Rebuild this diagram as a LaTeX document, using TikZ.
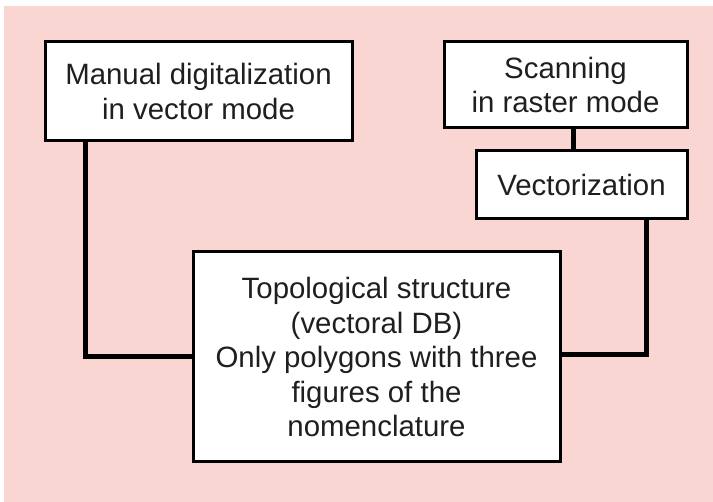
\documentclass[tikz,border=0pt]{standalone}
\usepackage{fontspec}
\setmainfont{Liberation Sans}
\definecolor{bgpink}{RGB}{250,214,211}
\begin{document}
\begin{tikzpicture}[x=1pt,y=-1pt,
  boxstyle/.style={draw=black,line width=3pt,fill=white,inner sep=0pt,
    font=\fontsize{29.4}{34.5}\selectfont,align=center,text=black!88},
  linkstyle/.style={draw=black,line width=5pt}]
\useasboundingbox (0,0) rectangle (713,502);
\fill[bgpink] (4,6) rectangle (713,502);
\node[boxstyle,minimum width=307pt,minimum height=99pt] (manual) at (198.5,91.5)
  {Manual digitalization\\in vector mode};
\node[boxstyle,minimum width=243pt,minimum height=86pt] (scan) at (565.5,85)
  {Scanning\\in raster mode};
\node[boxstyle,minimum width=211pt,minimum height=68pt] (vect) at (581.5,185)
  {Vectorization};
\node[boxstyle,minimum width=367pt,minimum height=210pt] (topo) at (376.5,357)
  {Topological structure\\(vectoral DB)\\Only polygons with three\\figures of the\\nomenclature};
\coordinate (c1) at (85,357);
\coordinate (c2) at (646,355);
\coordinate (c3) at (573,0);
\draw[linkstyle] (manual.south -| c1) |- (topo.west |- c1);
\draw[linkstyle] (vect.south -| c2) |- (topo.east |- c2);
\draw[linkstyle] (scan.south -| c3) -- (vect.north -| c3);
\end{tikzpicture}
\end{document}
